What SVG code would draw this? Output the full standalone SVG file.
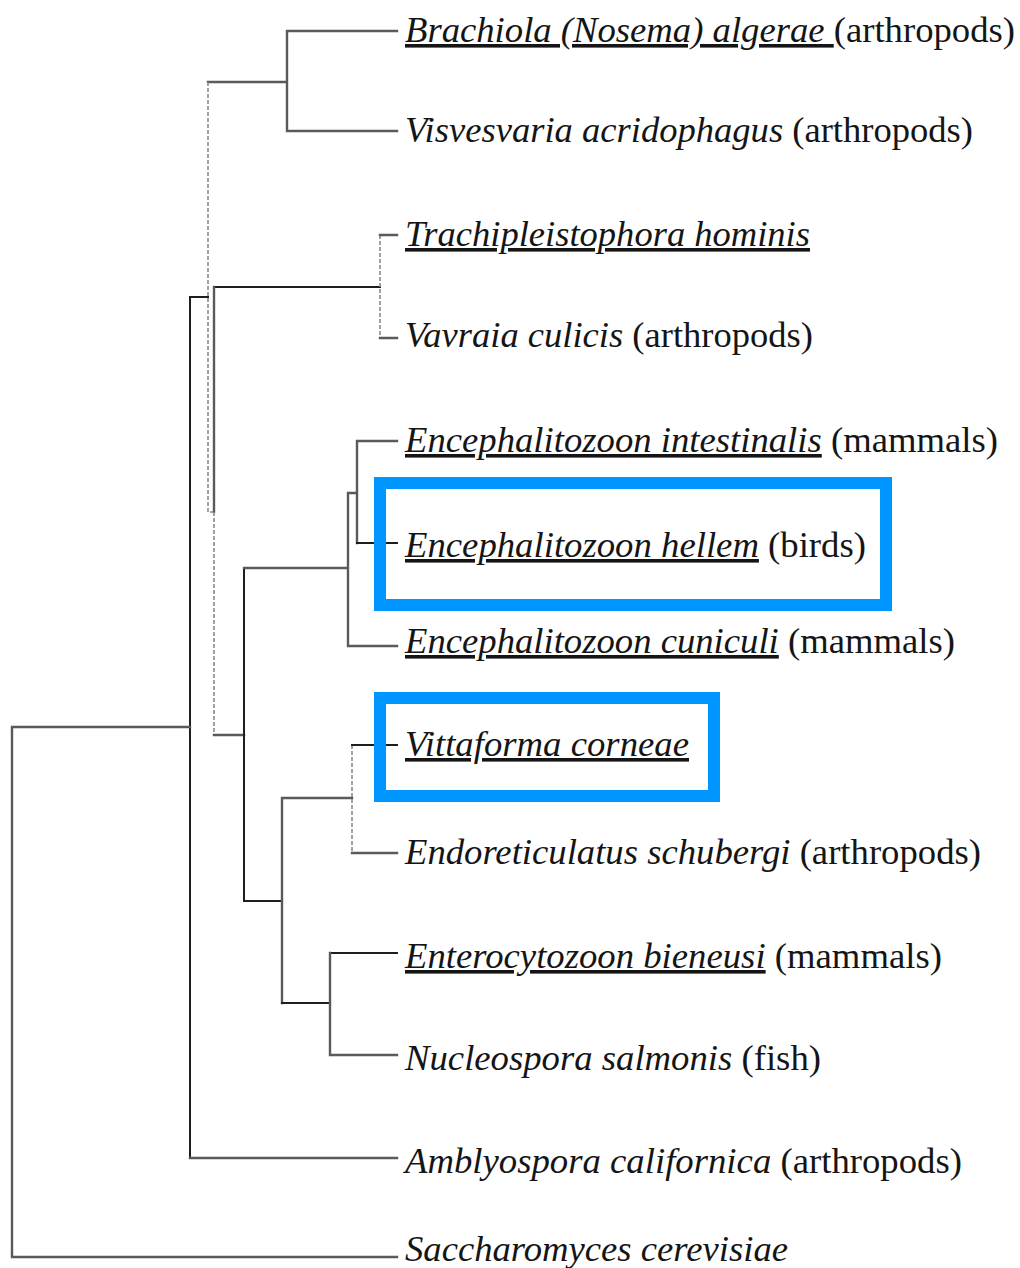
<svg xmlns="http://www.w3.org/2000/svg" width="1020" height="1268" viewBox="0 0 1020 1268">
<style>
.b{fill:none;stroke:#5a5a5a;stroke-width:2.4;stroke-linecap:square}
.k{fill:none;stroke:#1e1e1e;stroke-width:2;stroke-linecap:square}
.d{fill:none;stroke:#8a8a8a;stroke-width:1.6;stroke-dasharray:4 2}
.t{font-size:36px;fill:#151515}
.i{font-style:italic}
.u{text-decoration:underline}
.box{fill:none;stroke:#0096ff;stroke-width:12}
</style>
<rect width="1020" height="1268" fill="#fff"/>
<g id="connectors">
<path class="b" d="M287,31H397M287,131H397M287,31V131M208,82H287"/>
<path class="d" d="M208,82V512H214"/>
<path class="k" d="M190,297H208"/>
<path class="k" d="M215,287H380"/>
<path class="d" d="M380,235V338"/>
<path class="b" d="M380,235H397M380,338H397"/>
<path class="b" d="M214,287V512"/>
<path class="d" d="M214,512V735"/>
<path class="b" d="M214,735H244"/>
<path class="k" d="M244,568V901"/>
<path class="b" d="M244,568H348M348,493V646M348,493H357M357,441V543M357,441H397M348,646H397"/>
<path class="k" d="M357,543H397"/>
<path class="k" d="M244,901H282"/>
<path class="b" d="M282,798V1003M282,798H352"/>
<path class="d" d="M352,745V853"/>
<path class="k" d="M352,745H397"/>
<path class="b" d="M352,853H397"/>
<path class="k" d="M282,1003H330M330,953H397"/>
<path class="b" d="M330,953V1055M330,1055H397"/>
<path class="k" d="M190,297V1158"/>
<path class="b" d="M190,1158H397"/>
<path class="b" d="M12,727H190M12,727V1257H397"/>
</g>
<g id="labels" font-family="'Liberation Serif', 'Times New Roman', Tinos, 'DejaVu Serif', serif">
<g id="n1"><text class="t" x="405" y="42" textLength="610" lengthAdjust="spacingAndGlyphs"><tspan class="i u">Brachiola (Nosema) algerae </tspan>(arthropods)</text></g>
<g id="n2"><text class="t" x="405" y="142" textLength="568" lengthAdjust="spacingAndGlyphs"><tspan class="i">Visvesvaria acridophagus</tspan> (arthropods)</text></g>
<g id="n3"><text class="t" x="405" y="246" textLength="405" lengthAdjust="spacingAndGlyphs"><tspan class="i u">Trachipleistophora hominis</tspan></text></g>
<g id="n4"><text class="t" x="405" y="347" textLength="408" lengthAdjust="spacingAndGlyphs"><tspan class="i">Vavraia culicis</tspan> (arthropods)</text></g>
<g id="n5"><text class="t" x="405" y="452" textLength="593" lengthAdjust="spacingAndGlyphs"><tspan class="i u">Encephalitozoon intestinalis</tspan> (mammals)</text></g>
<g id="n6"><rect class="box" x="380" y="483" width="506" height="122"/><text class="t" x="405" y="557" textLength="461" lengthAdjust="spacingAndGlyphs"><tspan class="i u">Encephalitozoon hellem</tspan> (birds)</text></g>
<g id="n7"><text class="t" x="405" y="653" textLength="550" lengthAdjust="spacingAndGlyphs"><tspan class="i u">Encephalitozoon cuniculi</tspan> (mammals)</text></g>
<g id="n8"><rect class="box" x="380" y="698" width="334" height="98"/><text class="t" x="405" y="756" textLength="284" lengthAdjust="spacingAndGlyphs"><tspan class="i u">Vittaforma corneae</tspan></text></g>
<g id="n9"><text class="t" x="405" y="864" textLength="576" lengthAdjust="spacingAndGlyphs"><tspan class="i">Endoreticulatus schubergi</tspan> (arthropods)</text></g>
<g id="n10"><text class="t" x="405" y="968" textLength="537" lengthAdjust="spacingAndGlyphs"><tspan class="i u">Enterocytozoon bieneusi</tspan> (mammals)</text></g>
<g id="n11"><text class="t" x="405" y="1070" textLength="416" lengthAdjust="spacingAndGlyphs"><tspan class="i">Nucleospora salmonis</tspan> (fish)</text></g>
<g id="n12"><text class="t" x="405" y="1173" textLength="557" lengthAdjust="spacingAndGlyphs"><tspan class="i">Amblyospora californica</tspan> (arthropods)</text></g>
<g id="n13"><text class="t" x="405" y="1261" textLength="383" lengthAdjust="spacingAndGlyphs"><tspan class="i">Saccharomyces cerevisiae</tspan></text></g>
</g>
</svg>
